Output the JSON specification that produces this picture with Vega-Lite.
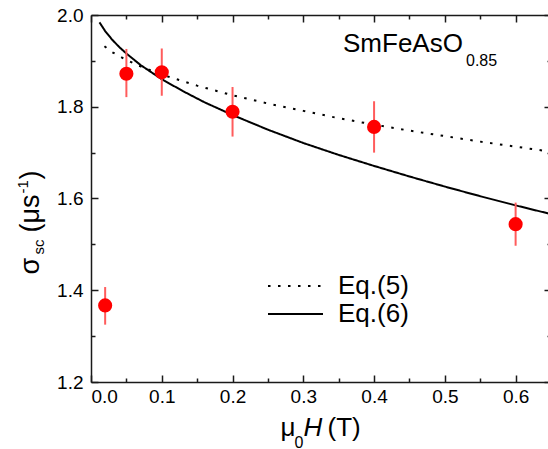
{
  "$schema": "https://vega.github.io/schema/vega-lite/v6.json",
  "width": 460,
  "height": 367,
  "autosize": {"type": "none"},
  "padding": {"left": 91, "top": 15, "right": 0, "bottom": 67},
  "background": "white",
  "config": {
    "view": {"stroke": null},
    "font": "Liberation Sans",
    "axis": {
      "grid": false,
      "domainColor": "#1a1a1a",
      "domainWidth": 1.5,
      "tickColor": "#1a1a1a",
      "tickWidth": 1.5,
      "labelFont": "Liberation Sans",
      "labelFontSize": 19,
      "labelColor": "black",
      "titleFont": "Liberation Sans",
      "titleColor": "black",
      "titleFontWeight": "normal",
      "titleAlign": "left",
      "titleBaseline": "alphabetic"
    }
  },
  "resolve": {"axis": {"x": "independent", "y": "independent"}},
  "datasets": {
    "curves": [
      {"h": 0.019, "s": 1.932, "eq": "Eq.(5)"},
      {"h": 0.03, "s": 1.919, "eq": "Eq.(5)"},
      {"h": 0.05, "s": 1.902, "eq": "Eq.(5)"},
      {"h": 0.07, "s": 1.888, "eq": "Eq.(5)"},
      {"h": 0.1, "s": 1.870, "eq": "Eq.(5)"},
      {"h": 0.15, "s": 1.846, "eq": "Eq.(5)"},
      {"h": 0.2, "s": 1.825, "eq": "Eq.(5)"},
      {"h": 0.25, "s": 1.807, "eq": "Eq.(5)"},
      {"h": 0.3, "s": 1.791, "eq": "Eq.(5)"},
      {"h": 0.35, "s": 1.775, "eq": "Eq.(5)"},
      {"h": 0.4, "s": 1.761, "eq": "Eq.(5)"},
      {"h": 0.45, "s": 1.748, "eq": "Eq.(5)"},
      {"h": 0.5, "s": 1.736, "eq": "Eq.(5)"},
      {"h": 0.55, "s": 1.724, "eq": "Eq.(5)"},
      {"h": 0.6, "s": 1.713, "eq": "Eq.(5)"},
      {"h": 0.65, "s": 1.702, "eq": "Eq.(5)"},
      {"h": 0.012, "s": 1.984, "eq": "Eq.(6)"},
      {"h": 0.02, "s": 1.965, "eq": "Eq.(6)"},
      {"h": 0.03, "s": 1.946, "eq": "Eq.(6)"},
      {"h": 0.04, "s": 1.930, "eq": "Eq.(6)"},
      {"h": 0.05, "s": 1.916, "eq": "Eq.(6)"},
      {"h": 0.07, "s": 1.891, "eq": "Eq.(6)"},
      {"h": 0.1, "s": 1.860, "eq": "Eq.(6)"},
      {"h": 0.13, "s": 1.834, "eq": "Eq.(6)"},
      {"h": 0.16, "s": 1.810, "eq": "Eq.(6)"},
      {"h": 0.2, "s": 1.782, "eq": "Eq.(6)"},
      {"h": 0.25, "s": 1.750, "eq": "Eq.(6)"},
      {"h": 0.3, "s": 1.721, "eq": "Eq.(6)"},
      {"h": 0.35, "s": 1.695, "eq": "Eq.(6)"},
      {"h": 0.4, "s": 1.671, "eq": "Eq.(6)"},
      {"h": 0.45, "s": 1.648, "eq": "Eq.(6)"},
      {"h": 0.5, "s": 1.626, "eq": "Eq.(6)"},
      {"h": 0.55, "s": 1.605, "eq": "Eq.(6)"},
      {"h": 0.6, "s": 1.585, "eq": "Eq.(6)"},
      {"h": 0.65, "s": 1.566, "eq": "Eq.(6)"}
    ],
    "points": [
      {"h": 0.02, "s": 1.367, "lo": 1.325, "hi": 1.407},
      {"h": 0.05, "s": 1.872, "lo": 1.821, "hi": 1.926},
      {"h": 0.1, "s": 1.875, "lo": 1.824, "hi": 1.927},
      {"h": 0.2, "s": 1.789, "lo": 1.735, "hi": 1.843},
      {"h": 0.4, "s": 1.756, "lo": 1.700, "hi": 1.812},
      {"h": 0.6, "s": 1.544, "lo": 1.497, "hi": 1.591}
    ]
  },
  "layer": [
    {
      "data": {"name": "curves"},
      "mark": {"type": "line", "color": "black", "strokeWidth": 2},
      "encoding": {
        "x": {"field": "h", "type": "quantitative",
          "scale": {"domain": [0, 0.65], "nice": false, "zero": false},
          "axis": {"orient": "bottom", "values": [0, 0.1, 0.2, 0.3, 0.4, 0.5, 0.6], "format": ".1f",
            "tickSize": -7, "labelPadding": 12,
            "title": "μ", "titleX": 189, "titleY": 53, "titleFontSize": 26, "titleAngle": 0}},
        "y": {"field": "s", "type": "quantitative",
          "scale": {"domain": [1.2, 2.0], "nice": false, "zero": false},
          "axis": {"orient": "left", "values": [1.2, 1.4, 1.6, 1.8, 2.0], "format": ".1f",
            "tickSize": -7, "labelPadding": 15,
            "title": "σ", "titleX": -53, "titleY": 259, "titleAngle": 270, "titleFontSize": 27}},
        "strokeDash": {"field": "eq", "type": "nominal",
          "scale": {"domain": ["Eq.(5)", "Eq.(6)"], "range": [[2.5, 7.5], [1, 0]]},
          "legend": {"orient": "none", "legendX": 191.5, "legendY": 258, "title": null,
            "symbolType": "M-5,0H5", "symbolSize": 121, "symbolStrokeWidth": 2,
            "symbolStrokeColor": "black", "symbolFillColor": "transparent", "labelFontSize": 26, "labelFont": "Liberation Sans",
            "labelColor": "black", "labelOffset": 29.5, "padding": 0, "rowPadding": 2}}
      }
    },
    {
      "data": {"name": "points"},
      "mark": {"type": "rule", "color": "#ff5c5c", "strokeWidth": 2},
      "encoding": {
        "x": {"field": "h", "type": "quantitative",
          "scale": {"domain": [0, 0.65], "nice": false, "zero": false},
          "axis": {"orient": "bottom", "values": [0.05, 0.15, 0.25, 0.35, 0.45, 0.55],
            "tickSize": -4, "labels": false, "domain": false,
            "title": "0", "titleX": 203, "titleY": 65, "titleFontSize": 16, "titleAngle": 0}},
        "y": {"field": "lo", "type": "quantitative",
          "scale": {"domain": [1.2, 2.0], "nice": false, "zero": false},
          "axis": {"orient": "left", "values": [1.3, 1.5, 1.7, 1.9],
            "tickSize": -4, "labels": false, "domain": false,
            "title": "sc", "titleX": -48, "titleY": 239, "titleAngle": 270, "titleFontSize": 15}},
        "y2": {"field": "hi"}
      }
    },
    {
      "data": {"name": "points"},
      "mark": {"type": "circle", "color": "#ff0000", "size": 200, "opacity": 1},
      "encoding": {
        "x": {"field": "h", "type": "quantitative",
          "scale": {"domain": [0, 0.65], "nice": false, "zero": false},
          "axis": {"orient": "top", "values": [0, 0.1, 0.2, 0.3, 0.4, 0.5, 0.6],
            "tickSize": -7, "labels": false,
            "title": "H", "titleFontStyle": "italic", "titleX": 212, "titleY": 420, "titleFontSize": 26, "titleAngle": 0}},
        "y": {"field": "s", "type": "quantitative",
          "scale": {"domain": [1.2, 2.0], "nice": false, "zero": false},
          "axis": {"orient": "right", "values": [1.2, 1.4, 1.6, 1.8, 2.0],
            "tickSize": -7, "labels": false,
            "title": "(μs", "titleX": -513, "titleY": 217, "titleAngle": 270, "titleFontSize": 27}}
      }
    },
    {
      "data": {"values": [{"label": "SmFeAsO", "h": 0.3561, "s": 1.9193}]},
      "mark": {"type": "text", "fontSize": 26, "align": "left", "baseline": "alphabetic", "color": "black", "font": "Liberation Sans"},
      "encoding": {
        "text": {"field": "label"},
        "x": {"field": "h", "type": "quantitative",
          "scale": {"domain": [0, 0.65], "nice": false, "zero": false},
          "axis": {"orient": "top", "values": [0.05, 0.15, 0.25, 0.35, 0.45, 0.55],
            "tickSize": -4, "labels": false, "domain": false,
            "title": "(T)", "titleX": 236, "titleY": 420, "titleFontSize": 26, "titleAngle": 0}},
        "y": {"field": "s", "type": "quantitative",
          "scale": {"domain": [1.2, 2.0], "nice": false, "zero": false},
          "axis": {"orient": "right", "values": [1.3, 1.5, 1.7, 1.9],
            "tickSize": -4, "labels": false, "domain": false,
            "title": "-1", "titleX": -524, "titleY": 178, "titleAngle": 270, "titleFontSize": 15}}
      }
    },
    {
      "data": {"values": [{"label": "0.85", "h": 0.5299, "s": 1.8888}]},
      "mark": {"type": "text", "fontSize": 16, "align": "left", "baseline": "alphabetic", "color": "black", "font": "Liberation Sans"},
      "encoding": {
        "text": {"field": "label"},
        "x": {"field": "h", "type": "quantitative",
          "scale": {"domain": [0, 0.65], "nice": false, "zero": false},
          "axis": null},
        "y": {"field": "s", "type": "quantitative",
          "scale": {"domain": [1.2, 2.0], "nice": false, "zero": false},
          "axis": {"orient": "left", "ticks": false, "labels": false, "domain": false,
            "title": ")", "titleX": -53, "titleY": 164, "titleAngle": 270, "titleFontSize": 27}}
      }
    }
  ]
}
